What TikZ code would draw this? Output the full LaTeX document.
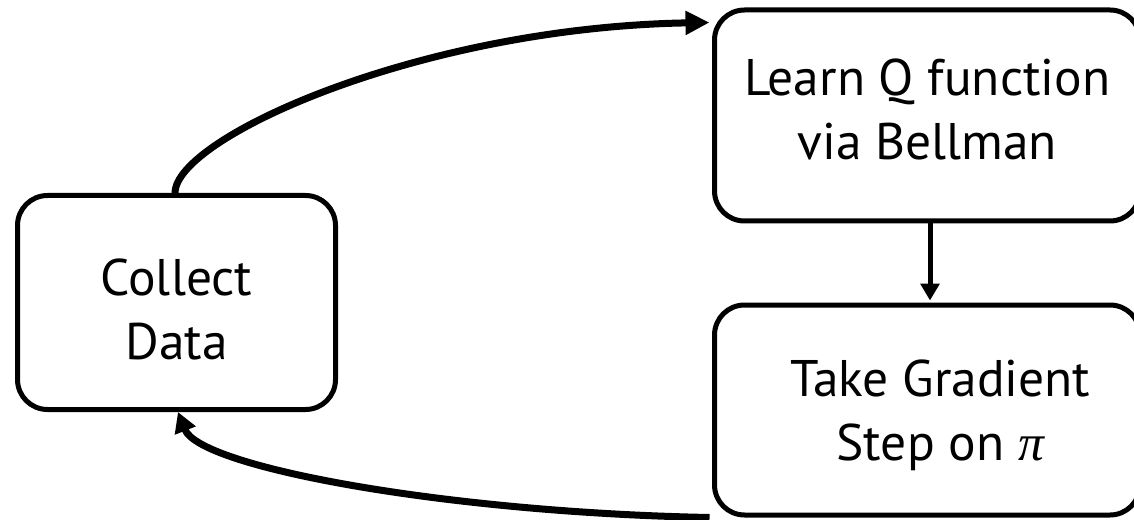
\documentclass[tikz,border=0pt]{standalone}
\usepackage{fontspec}
\setmainfont{PT Sans}
\newfontfamily\pifont{Liberation Serif}
\usetikzlibrary{arrows.meta}
\begin{document}
\begin{tikzpicture}[x=0.75pt,y=-0.75pt,
  box/.style={draw=black,line width=3.75pt,rounded corners=22.5pt,inner sep=0pt},
  txt/.style={align=center,inner sep=0pt,font=\fontsize{38.6pt}{48pt}\selectfont},
  loop/.style={line width=5.25pt,-{Triangle[length=18pt,width=17pt]}},
  back/.style={line width=5.25pt,-{Triangle[length=15pt,width=16pt]}},
  down/.style={line width=3.75pt,-{Triangle[length=12.75pt,width=14pt]}}]
\useasboundingbox (0,0) rectangle (1134,520);
\node[box,minimum width=238.5pt,minimum height=160.5pt] (cd) at (176.5,302.5) {};
\node[box,minimum width=319.1pt,minimum height=158.25pt] (lq) at (927.25,115.5) {};
\node[box,minimum width=319.1pt,minimum height=157.5pt] (tg) at (927.25,410) {};
\node[txt] (cdt) at ([yshift=-5.25pt]cd.center) {Collect\\Data};
\node[txt] (lqt) at ([yshift=4.5pt]lq.center) {Learn Q function\\via Bellman};
\node[txt] (tgt) at ([xshift=9.75pt,yshift=-3.75pt]tg.center) {Take Gradient\\Step on {\pifont\itshape π}};
\coordinate (qin) at ([shift={(-2.5,15)}]lq.north west);
\coordinate (bout) at ([shift={(-2.5,0)}]tg.south west);
\draw[loop] ([xshift=-1.1pt]cd.north) .. controls +(0,-55) and +(-290,5) .. (qin);
\draw[down] ([xshift=2.06pt]lq.south) -- ([xshift=2.06pt,yshift=1.5pt]tg.north);
\draw[back] (bout) .. controls +(-262,-5) and +(22,55.5) .. ([xshift=1.1pt]cd.south);
\end{tikzpicture}
\end{document}
